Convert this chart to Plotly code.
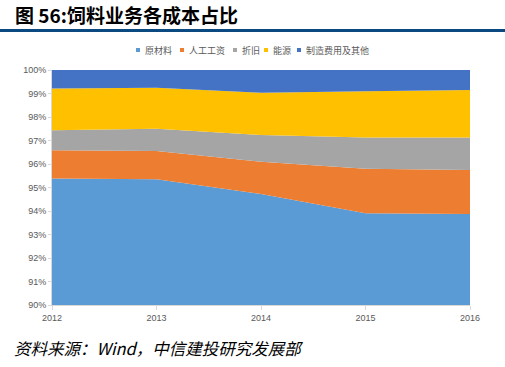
import plotly.graph_objects as go

years = ["2012", "2013", "2014", "2015", "2016"]
series_names = ["原材料", "人工工资", "折旧", "能源", "制造费用及其他"]
raw_material = [95.38, 95.35, 94.72, 93.90, 93.87]
labor = [1.20, 1.20, 1.38, 1.90, 1.88]
depreciation = [0.86, 0.95, 1.13, 1.33, 1.38]
energy = [1.77, 1.75, 1.80, 1.97, 2.02]
other = [0.79, 0.75, 0.97, 0.90, 0.85]
colors = ["#5B9BD5", "#ED7D31", "#A5A5A5", "#FFC000", "#4472C4"]
y_ticks = [90, 91, 92, 93, 94, 95, 96, 97, 98, 99, 100]
y_tick_text = [f"{v}%" for v in y_ticks]

PT, PB, PL, PR = 70, 305, 52, 470
PH = PB - PT
PW = PR - PL


def py(pix):
    return (PB - pix) / PH


def px(pix):
    return (pix - PL) / PW


fig = go.Figure()
for name, vals, col in zip(series_names, [raw_material, labor, depreciation, energy, other], colors):
    fig.add_trace(go.Scatter(
        x=years, y=vals, name=name, stackgroup="one", mode="none",
        fillcolor=col, line=dict(width=0), showlegend=False,
    ))

fig.update_layout(
    width=505, height=367,
    margin=dict(l=PL, r=505 - PR, t=PT, b=367 - PB, autoexpand=False),
    paper_bgcolor="white", plot_bgcolor="white",
    showlegend=False,
    font=dict(family="Liberation Sans, Arial", size=9, color="#595959"),
    xaxis=dict(type="category", showgrid=False, showline=True, linecolor="#D9D9D9",
               ticks="outside", ticklen=4, tickcolor="#D9D9D9", zeroline=False,
               range=[0, 4], tickfont=dict(size=9, color="#595959")),
    yaxis=dict(range=[90, 100], tickmode="array", tickvals=y_ticks, ticktext=y_tick_text,
               showgrid=False, showline=True, linecolor="#D9D9D9", ticks="outside", ticklen=3,
               tickcolor="#D9D9D9", zeroline=False,
               tickfont=dict(size=9, color="#595959")),
)

# legend drawn as text items with small colour squares (matching the reference's compact legend)
legend_text_x = [143, 187, 240, 271, 304]
for name, col, tx in zip(series_names, colors, legend_text_x):
    fig.add_shape(type="rect", xref="paper", yref="paper",
                  x0=px(tx - 7), x1=px(tx - 3), y0=py(52), y1=py(48),
                  line=dict(width=0), fillcolor=col)
    fig.add_annotation(text=name, x=px(tx), y=py(50), xref="paper", yref="paper",
                       xanchor="left", yanchor="middle", showarrow=False,
                       font=dict(size=9, color="#595959", family="Noto Sans CJK SC"))

fig.add_annotation(text="<b>图 56:饲料业务各成本占比</b>", x=px(13), y=py(14), xref="paper", yref="paper",
                   xanchor="left", yanchor="middle", showarrow=False,
                   font=dict(size=19, color="#000000", family="Noto Sans CJK SC"))
fig.add_shape(type="line", xref="paper", yref="paper", x0=px(0), x1=px(505),
              y0=py(30.5), y1=py(30.5), line=dict(color="#0B4A80", width=3))
fig.add_annotation(text="<i>资料来源：Wind，中信建投研究发展部</i>", x=px(12), y=py(348),
                   xref="paper", yref="paper", xanchor="left", yanchor="middle",
                   showarrow=False, font=dict(size=16.5, color="#000000", family="Noto Sans CJK SC"))

fig.write_html("out.html", config={"displayModeBar": False},
               post_script="document.body.style.margin='0';")
